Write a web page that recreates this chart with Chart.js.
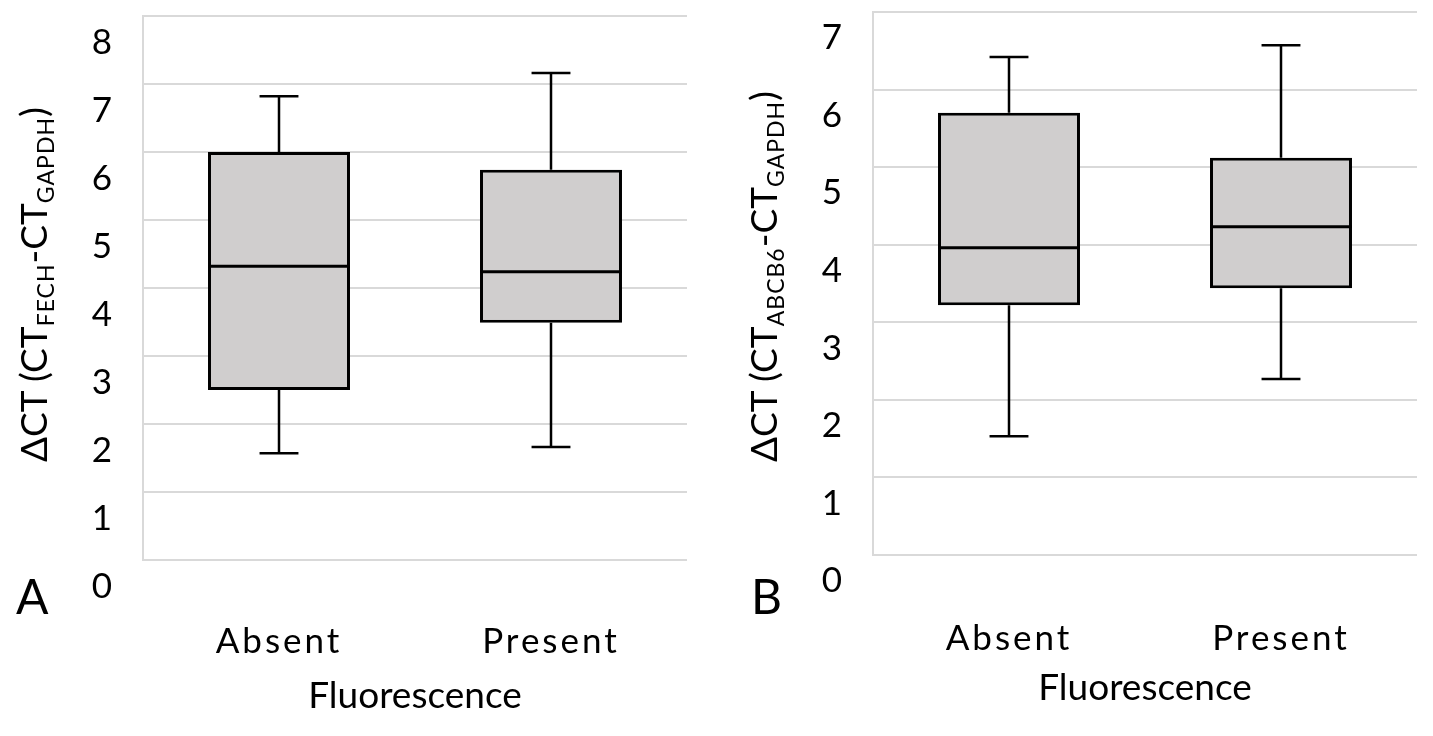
<!DOCTYPE html>
<html>
<head>
<meta charset="utf-8">
<title>Fluorescence box plots</title>
<script src="https://cdn.jsdelivr.net/npm/chart.js@4.4.1/dist/chart.umd.min.js"></script>
<style>
  body { margin: 0; background: #fff; font-family: Lato, sans-serif; color: #000; }
  #wrap { position: relative; width: 1433px; height: 736px; overflow: hidden; }
  .panel { position: absolute; top: 0; height: 736px; }
  #panelA { left: 0; width: 700px; }
  #panelB { left: 716px; width: 717px; }
  .ytitle { position: absolute; transform-origin: 0 0; transform: rotate(-90deg);
            white-space: nowrap; font-size: 37px; line-height: 37px; }
  .ytitle .sub { position: relative; top: 0.32em; font-size: 23px; letter-spacing: 1px; }
  .letter { position: absolute; font-size: 48px; line-height: 48px; }
</style>
</head>
<body>
<div id="wrap">
  <div class="panel" id="panelA"><canvas id="chartA"></canvas></div>
  <div class="panel" id="panelB"><canvas id="chartB"></canvas></div>
  <div class="ytitle" style="left:14px; top:462px">ΔCT (CT<span class="sub">FECH</span>-CT<span class="sub">GAPDH</span>)</div>
  <div class="ytitle" style="left:744px; top:462px">ΔCT (CT<span class="sub">ABCB6</span>-CT<span class="sub">GAPDH</span>)</div>
  <div class="letter" style="left:16px; top:572px">A</div>
  <div class="letter" style="left:751px; top:572px">B</div>
</div>
<script>
const categories = ['Absent', 'Present']

// panel A, FECH
const fechMin = [1.57, 1.66]
const fechQ1 = [2.50, 3.49]
const fechMedian = [4.32, 4.24]
const fechQ3 = [6.00, 5.74]
const fechMax = [6.82, 7.16]
const yTicksA = [0, 1, 2, 3, 4, 5, 6, 7, 8]

// panel B, ABCB6
const abcb6Min = [1.53, 2.27]
const abcb6Q1 = [3.22, 3.44]
const abcb6Median = [3.96, 4.23]
const abcb6Q3 = [5.70, 5.12]
const abcb6Max = [6.42, 6.57]
const yTicksB = [0, 1, 2, 3, 4, 5, 6, 7]

// whiskers + median on top of the floating bars
const boxExtras = {
  id: 'boxExtras',
  afterDatasetsDraw(chart) {
    const ctx = chart.ctx
    const y = chart.scales.y
    const ds = chart.data.datasets[0]
    const meta = chart.getDatasetMeta(0)
    ctx.save()
    ctx.strokeStyle = '#000'
    ctx.lineCap = 'butt'
    meta.data.forEach((bar, i) => {
      const cx = bar.x
      const half = bar.width / 2
      const cap = bar.width * 0.137
      const yMin = y.getPixelForValue(ds.whiskerMin[i])
      const yMax = y.getPixelForValue(ds.whiskerMax[i])
      const yQ1 = y.getPixelForValue(ds.data[i][0])
      const yQ3 = y.getPixelForValue(ds.data[i][1])
      const yMed = y.getPixelForValue(ds.median[i])
      ctx.lineWidth = 2.5
      ctx.beginPath()
      ctx.moveTo(cx, yQ3); ctx.lineTo(cx, yMax)
      ctx.moveTo(cx - cap, yMax); ctx.lineTo(cx + cap, yMax)
      ctx.moveTo(cx, yQ1); ctx.lineTo(cx, yMin)
      ctx.moveTo(cx - cap, yMin); ctx.lineTo(cx + cap, yMin)
      ctx.stroke()
      ctx.lineWidth = 3
      ctx.beginPath()
      ctx.moveTo(cx - half, yMed); ctx.lineTo(cx + half, yMed)
      ctx.stroke()
    })
    ctx.restore()
    // x tick labels are drawn after this (ticks z = 1), spaced like the original
    ctx.letterSpacing = '3px'
  },
  afterDraw(chart) {
    chart.ctx.letterSpacing = '0px'
  }
}

function makeChart(id, p) {
  return new Chart(document.getElementById(id), {
    type: 'bar',
    data: {
      labels: categories,
      datasets: [{
        data: p.q1.map((v, i) => [v, p.q3[i]]),
        median: p.median,
        whiskerMin: p.min,
        whiskerMax: p.max,
        backgroundColor: '#d0cece',
        borderColor: '#000',
        borderWidth: 3,
        borderSkipped: false,
        barPercentage: 0.522,
        categoryPercentage: 1
      }]
    },
    options: {
      responsive: true,
      maintainAspectRatio: false,
      animation: false,
      layout: { padding: { top: p.top, right: p.right, left: 0, bottom: 0 } },
      plugins: { legend: { display: false }, tooltip: { enabled: false } },
      scales: {
        x: {
          grid: { display: false, drawTicks: false },
          border: { display: false },
          ticks: { font: { family: 'Lato', size: 35 }, color: '#000', padding: p.xPad, z: 1 },
          title: { display: true, text: 'Fluorescence', color: '#000',
                   font: { family: 'Lato', size: 37 }, padding: { top: 0, bottom: p.titlePad } },
          afterFit: s => { s.height = p.xHeight; s.paddingLeft = 0; s.paddingRight = 0 }
        },
        y: {
          min: 0,
          max: p.ticks[p.ticks.length - 1],
          afterBuildTicks: s => { s.ticks = p.ticks.map(v => ({ value: v })) },
          ticks: { font: { family: 'Lato', size: 35 }, color: '#000', padding: 31, labelOffset: p.labelOffset },
          grid: { color: '#d9d9d9', lineWidth: 2, drawTicks: false },
          border: { display: true, color: '#d9d9d9', width: 2 },
          afterFit: s => { s.width = p.yWidth; s.paddingTop = 0; s.paddingBottom = 0 }
        }
      }
    },
    plugins: [boxExtras]
  })
}

makeChart('chartA', {
  min: fechMin, q1: fechQ1, median: fechMedian, q3: fechQ3, max: fechMax, ticks: yTicksA,
  top: 16, right: 13, yWidth: 143, xHeight: 176, xPad: 61, titlePad: 18, labelOffset: 27
})
makeChart('chartB', {
  min: abcb6Min, q1: abcb6Q1, median: abcb6Median, q3: abcb6Q3, max: abcb6Max, ticks: yTicksB,
  top: 12, right: 16, yWidth: 157, xHeight: 181, xPad: 63, titlePad: 26, labelOffset: 26
})
</script>
</body>
</html>
